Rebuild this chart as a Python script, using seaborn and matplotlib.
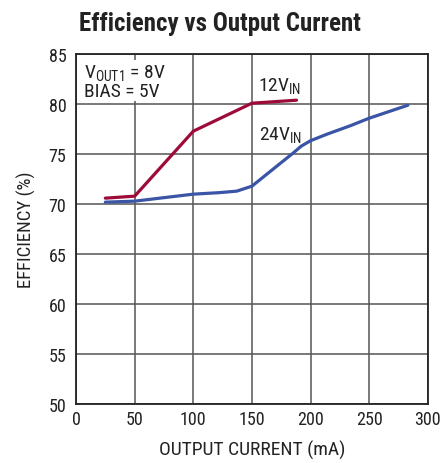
import matplotlib
matplotlib.use("Agg")
import matplotlib.pyplot as plt
import seaborn as sns
import pandas as pd

# 12V input curve
i_12v = [25, 50, 100, 150, 188]
eff_12v = [70.6, 70.8, 77.3, 80.1, 80.4]

# 24V input curve
i_24v = [25, 50, 75, 100, 122, 137, 150, 159, 168, 177, 185, 192, 200, 214, 234, 250, 283]
eff_24v = [70.2, 70.3, 70.65, 71.0, 71.15, 71.3, 71.8, 72.65, 73.5, 74.35, 75.1, 75.8,
           76.35, 77.0, 77.85, 78.6, 79.9]

x_ticks = [0, 50, 100, 150, 200, 250, 300]
y_ticks = [50, 55, 60, 65, 70, 75, 80, 85]

sns.set_style("white")
fonts = ["Roboto Condensed", "Liberation Sans Narrow", "Liberation Sans", "DejaVu Sans"]
plt.rcParams["font.family"] = fonts
plt.rcParams["mathtext.fontset"] = "custom"
plt.rcParams["mathtext.rm"] = "Roboto Condensed"
plt.rcParams["mathtext.it"] = "Roboto Condensed"
plt.rcParams["mathtext.bf"] = "Roboto Condensed"

df12 = pd.DataFrame({"current": i_12v, "eff": eff_12v})
df24 = pd.DataFrame({"current": i_24v, "eff": eff_24v})

fig = plt.figure(figsize=(4.42, 4.64), dpi=100)
ax = fig.add_axes([0.172, 0.127, 0.796, 0.754])

sns.lineplot(data=df12, x="current", y="eff", ax=ax, color="#9E0B38", linewidth=2.3)
sns.lineplot(data=df24, x="current", y="eff", ax=ax, color="#3A55A5", linewidth=2.3)

ax.set_xlim(0, 300)
ax.set_ylim(50, 85)
ax.set_xticks(x_ticks)
ax.set_yticks(y_ticks)
ax.grid(True, color="#555555", linewidth=1.1)
ax.set_axisbelow(True)
for s in ax.spines.values():
    s.set_color("#222222")
    s.set_linewidth(1.3)
ax.tick_params(axis="y", length=0, labelsize=13, colors="#222222", pad=7)
ax.tick_params(axis="x", length=0, labelsize=13, colors="#222222", pad=4)

ax.set_xlabel("OUTPUT CURRENT (mA)", fontsize=14, color="#222222", labelpad=9)
ax.set_ylabel("EFFICIENCY (%)", fontsize=13.5, color="#222222", labelpad=9)

fig.text(0.497, 0.933, "Efficiency vs Output Current", ha="center", va="baseline",
         fontsize=18, fontweight="bold", color="#222222")

ax.text(7, 80.85, r"V$_{\mathrm{OUT1}}$ = 8V" + "\n" + "BIAS = 5V", fontsize=14,
        color="#222222", va="baseline", linespacing=0.95,
        bbox=dict(facecolor="white", edgecolor="none", pad=1))
ax.text(155, 81.4, r"12V$_{\mathrm{IN}}$", fontsize=14, color="#222222", va="baseline")
ax.text(156, 76.5, r"24V$_{\mathrm{IN}}$", fontsize=14, color="#222222", va="baseline")

fig.savefig("out.png", dpi=100, facecolor="white")
